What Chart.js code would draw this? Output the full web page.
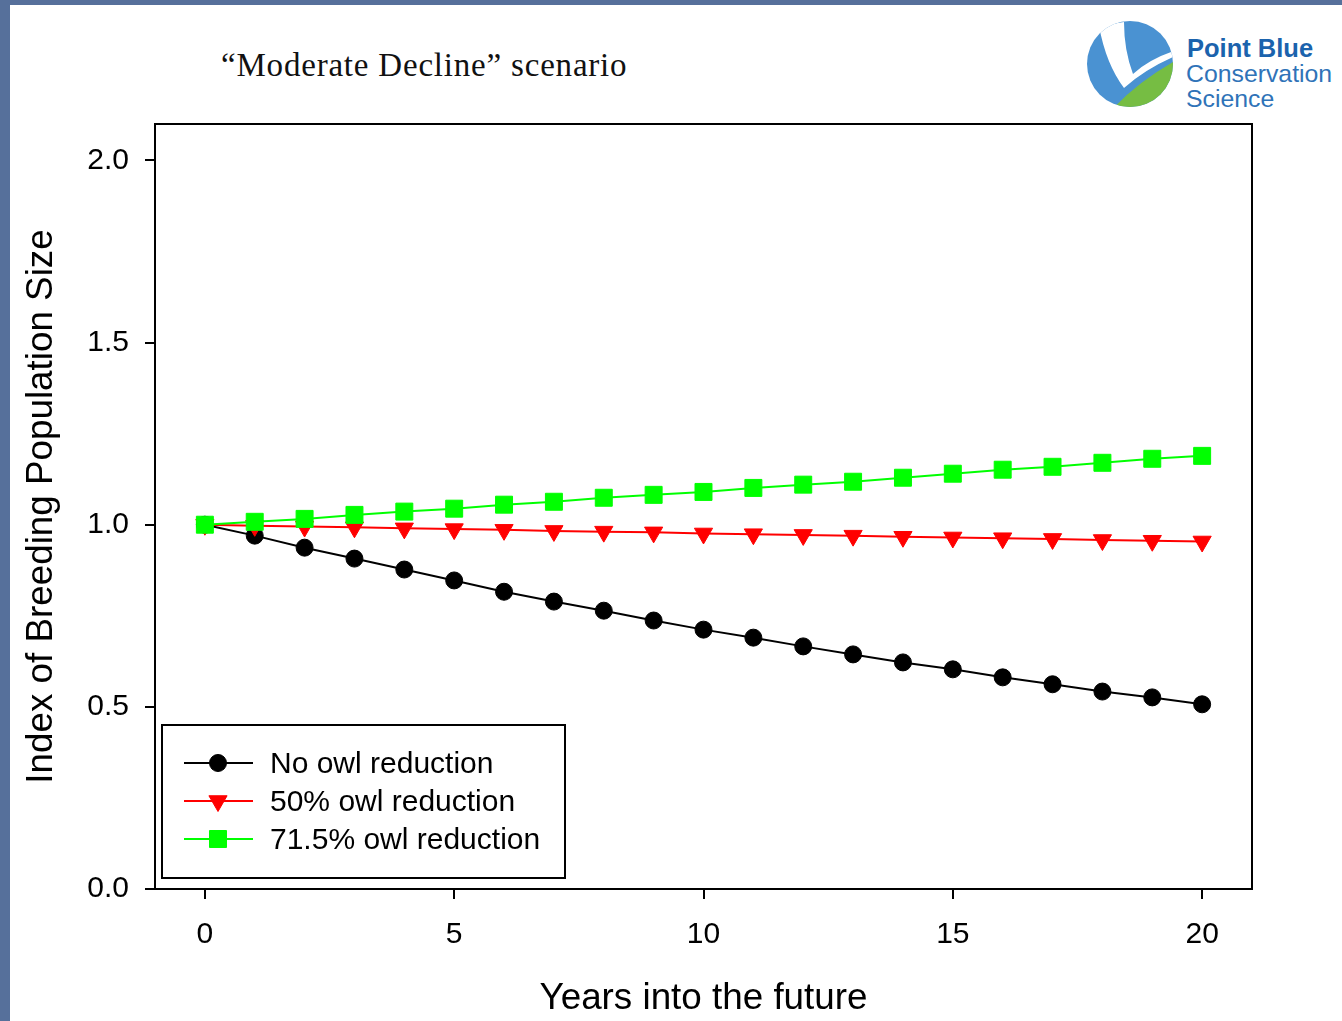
<!DOCTYPE html>
<html>
<head>
<meta charset="utf-8">
<script src="https://cdn.jsdelivr.net/npm/chart.js@4.4.1/dist/chart.umd.min.js"></script>
<style>
html,body{margin:0;padding:0;}
body{width:1342px;height:1021px;background:#56709b;position:relative;overflow:hidden;}
#panel{position:absolute;left:10px;top:5px;right:0;bottom:0;background:#fff;}
#title{position:absolute;left:221px;top:47px;line-height:36px;font-family:"Liberation Serif","DejaVu Serif",serif;font-size:33px;letter-spacing:0.8px;color:#111;white-space:nowrap;}
#logo{position:absolute;left:1084px;top:16px;}
#chart{position:absolute;left:0;top:0;}
</style>
</head>
<body>

<div id="panel"></div>

<div id="title">“Moderate Decline” scenario</div>

<svg id="logo" width="258" height="100" viewBox="0 0 258 100">
  <defs>
    <clipPath id="disc"><circle cx="46" cy="48" r="43"/></clipPath>
  </defs>
  <circle cx="46" cy="48" r="43" fill="#4a92d2"/>
  <path clip-path="url(#disc)" d="M 26 96 Q 52 66 96 42 L 96 98 L 26 98 Z" fill="#76bd43"/>
  <path clip-path="url(#disc)" d="M 15 10 Q 22 48 40 72 Q 62 52 96 38 L 96 33 Q 66 42 49 58 Q 40 34 40 6 Z" fill="#fff"/>
  <text x="103" y="41" font-family="'Liberation Sans',Arial,sans-serif" font-weight="bold" font-size="25.5" fill="#1b63ad">Point Blue</text>
  <text x="102" y="66" font-family="'Liberation Sans',Arial,sans-serif" font-size="24.8" fill="#2f73b8">Conservation</text>
  <text x="102" y="91" font-family="'Liberation Sans',Arial,sans-serif" font-size="24.8" fill="#2f73b8">Science</text>
</svg>

<canvas id="chart" width="1342" height="1021"></canvas>

<script>

// =====================================
// DATA
// =====================================

const years = [0,1,2,3,4,5,6,7,8,9,10,11,12,13,14,15,16,17,18,19,20];

const noReduction = [
  1.000,0.970,0.937,0.907,0.877,0.847,0.816,0.789,0.764,0.737,0.712,
  0.690,0.666,0.644,0.622,0.603,0.581,0.562,0.542,0.526,0.507
];

const fiftyReduction = [
  1.000,0.997,0.995,0.993,0.990,0.988,0.986,0.983,0.981,0.979,0.976,
  0.974,0.972,0.970,0.967,0.965,0.963,0.961,0.958,0.956,0.954
];

const seventyReduction = [
  1.000,1.008,1.016,1.027,1.036,1.044,1.055,1.063,1.074,1.082,1.090,
  1.101,1.110,1.118,1.129,1.140,1.151,1.159,1.170,1.181,1.189
];

const seriesLabels = [
  "No owl reduction",
  "50% owl reduction",
  "71.5% owl reduction"
];

const xTicks = [0,5,10,15,20];
const yTicks = [0,0.5,1,1.5,2];


// =====================================
// HELPERS
// =====================================

function toPoints(values){

  return years.map((x,i) => ({ x, y: values[i] }));

}

Chart.defaults.font.family = "'Liberation Sans', Arial, sans-serif";
Chart.defaults.color = "#000";


// =====================================
// FRAME + LEGEND PLUGINS
// =====================================

const frame = {

  id:"frame",

  afterDatasetsDraw(chart){

    const { ctx, chartArea:a } = chart;

    ctx.save();
    ctx.strokeStyle = "#000";
    ctx.lineWidth = 2;
    ctx.strokeRect(a.left, a.top, a.right - a.left, a.bottom - a.top);
    ctx.restore();

  }

};

const boxLegend = {

  id:"boxLegend",

  afterDraw(chart){

    const { ctx, chartArea:a } = chart;

    const left = a.left + 7;
    const top = a.bottom - 164;

    ctx.save();

    ctx.fillStyle = "#fff";
    ctx.fillRect(left, top, 403, 153);
    ctx.strokeStyle = "#000";
    ctx.lineWidth = 2;
    ctx.strokeRect(left, top, 403, 153);

    chart.data.datasets.forEach((ds,i) => {

      const y = top + 38 + i * 38;

      ctx.strokeStyle = ds.borderColor;
      ctx.lineWidth = 2;
      ctx.beginPath();
      ctx.moveTo(left + 22, y);
      ctx.lineTo(left + 91, y);
      ctx.stroke();

      ctx.fillStyle = ds.pointBackgroundColor;
      ctx.strokeStyle = ds.pointBorderColor;
      ctx.lineWidth = 1;
      Chart.helpers.drawPoint(ctx, {
        pointStyle: ds.pointStyle,
        radius: ds.pointRadius,
        rotation: ds.pointRotation || 0,
        borderWidth: 1
      }, left + 56, y);

      // text sits a touch lower than the marker row
      ctx.fillStyle = "#000";
      ctx.font = "30px 'Liberation Sans', Arial, sans-serif";
      ctx.textBaseline = "middle";
      ctx.textAlign = "left";
      ctx.fillText(ds.label, left + 108, y + 2);

    });

    ctx.restore();

  }

};


// =====================================
// CHART
// =====================================

const ctx = document.getElementById("chart").getContext("2d");

new Chart(ctx, {

  type:"line",

  data:{

    datasets:[

      {
        label: seriesLabels[0],
        data: toPoints(noReduction),
        borderColor: "#000000",
        borderWidth: 2,
        pointStyle: "circle",
        pointRadius: 8.5,
        pointBackgroundColor: "#000000",
        pointBorderColor: "#000000",
        pointBorderWidth: 1,
        order: 3
      },

      {
        label: seriesLabels[1],
        data: toPoints(fiftyReduction),
        borderColor: "#ff0000",
        borderWidth: 2,
        pointStyle: "triangle",
        pointRotation: 180,
        pointRadius: 10.5,
        pointBackgroundColor: "#ff0000",
        pointBorderColor: "#ff0000",
        pointBorderWidth: 1,
        order: 2
      },

      {
        label: seriesLabels[2],
        data: toPoints(seventyReduction),
        borderColor: "#00ff00",
        borderWidth: 2,
        pointStyle: "rect",
        pointRadius: 12,
        pointBackgroundColor: "#00ff00",
        pointBorderColor: "#00ff00",
        pointBorderWidth: 1,
        order: 1
      }

    ]

  },

  options:{

    responsive:false,
    animation:false,

    layout:{
      padding:{ left:10, top:124, right:90, bottom:0 }
    },

    elements:{
      line:{ tension:0 }
    },

    plugins:{
      legend:{ display:false },
      tooltip:{ enabled:false }
    },

    scales:{

      x:{
        type:"linear",
        min:-1,
        max:21,
        afterBuildTicks(scale){
          scale.ticks = xTicks.map(v => ({ value:v }));
        },
        afterFit(scale){
          scale.height = 132;
        },
        grid:{
          drawOnChartArea:false,
          drawTicks:true,
          tickLength:10,
          color:"#000",
          lineWidth:2
        },
        border:{ display:true, color:"#000", width:2 },
        ticks:{
          padding:18,
          maxRotation:0,
          font:{ size:30 },
          callback:(v) => String(v)
        },
        title:{
          display:true,
          text:"Years into the future",
          font:{ size:36.8 },
          padding:{ top:0, bottom:0 }
        }
      },

      y:{
        type:"linear",
        min:0,
        max:2.1,
        afterBuildTicks(scale){
          scale.ticks = yTicks.map(v => ({ value:v }));
        },
        afterFit(scale){
          scale.width = 145;
        },
        grid:{
          drawOnChartArea:false,
          drawTicks:true,
          tickLength:10,
          color:"#000",
          lineWidth:2
        },
        border:{ display:true, color:"#000", width:2 },
        ticks:{
          padding:16,
          font:{ size:30 },
          callback:(v) => Number(v).toFixed(1)
        },
        title:{
          display:true,
          text:"Index of Breeding Population Size",
          font:{ size:36.8 },
          padding:{ top:10, bottom:0 }
        }
      }

    }

  },

  plugins:[ frame, boxLegend ]

});

</script>
</body>
</html>
